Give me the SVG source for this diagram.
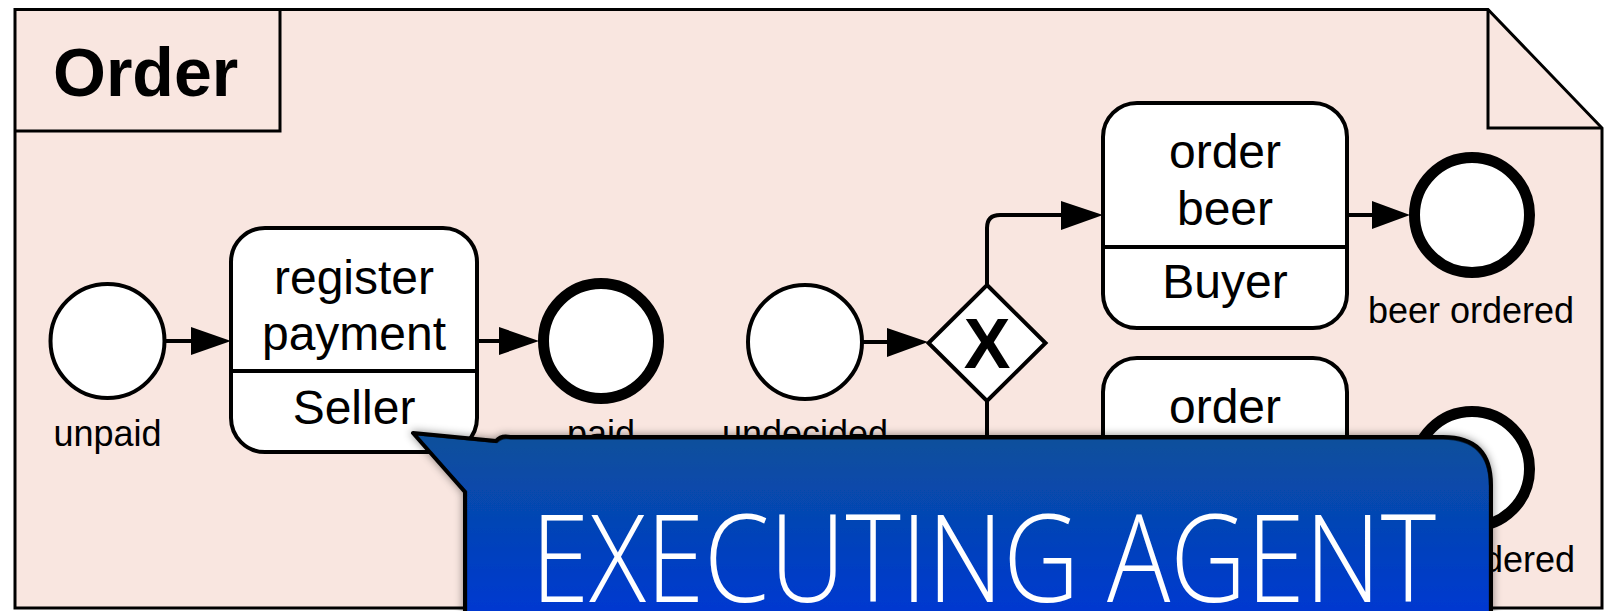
<svg xmlns="http://www.w3.org/2000/svg" width="1608" height="611" viewBox="0 0 1608 611">
<style>
.frame{fill:#f9e6e0;stroke:#000;stroke-width:3;stroke-linejoin:miter}
.ln{fill:none;stroke:#000;stroke-width:3}
.task{fill:#fff;stroke:#000;stroke-width:4}
.start{fill:#fff;stroke:#000;stroke-width:4}
.end{fill:#fff;stroke:#000;stroke-width:11}
.gw{fill:#fff;stroke:#000;stroke-width:4;stroke-linejoin:miter}
.t{font-family:"Liberation Sans",Arial,sans-serif;fill:#000}
.tt{font-size:48px;text-anchor:middle}
.lab{font-size:36px;text-anchor:middle}
.edge{fill:none;stroke:#000;stroke-width:4}
.head{fill:#000}
</style>
<defs>
<linearGradient id="blue" x1="0" y1="0" x2="0" y2="1">
<stop offset="0" stop-color="#09519a"/>
<stop offset="1" stop-color="#0133dc"/>
</linearGradient>
<filter id="shadow" x="-5%" y="-20%" width="110%" height="140%">
<feDropShadow dx="0" dy="0" stdDeviation="4" flood-color="#000" flood-opacity="0.45"/>
</filter>
</defs>

<g id="frame">
<path class="frame" d="M15,9.5 H1488 L1602,128 V608 H15 Z"/>
<path class="ln" d="M1488,9.5 V128 H1602"/>
<path class="ln" d="M15,131 H280 V9.5"/>
<text class="t" x="53" y="96" font-size="68" font-weight="bold">Order</text>
</g>

<g id="connectors">
<line class="edge" x1="164" y1="341" x2="193" y2="341"/>
<polygon class="head" points="231,341 191,327 191,355"/>
<line class="edge" x1="477" y1="341" x2="501" y2="341"/>
<polygon class="head" points="539,341 499,327 499,355"/>
<line class="edge" x1="862" y1="342" x2="889" y2="342"/>
<polygon class="head" points="928,342 887,328 887,357"/>
<path class="edge" d="M987,285 V228 Q987,215 1000,215 H1063"/>
<polygon class="head" points="1103,215 1061,201 1061,230"/>
<line class="edge" x1="1347" y1="215" x2="1374" y2="215"/>
<polygon class="head" points="1410,215 1372,201 1372,229"/>
<path class="edge" d="M987,401 V457 Q987,470 1000,470 H1063"/>
<polygon class="head" points="1103,470 1061,456 1061,484"/>
<line class="edge" x1="1347" y1="470" x2="1374" y2="470"/>
<polygon class="head" points="1410,470 1372,456 1372,484"/>
</g>

<g id="unpaid">
<circle class="start" cx="107.5" cy="341" r="57"/>
<text class="t lab" x="107.5" y="446">unpaid</text>
</g>

<g id="register-payment">
<rect class="task" x="231" y="228" width="246" height="224" rx="34"/>
<line class="edge" x1="231" y1="371" x2="477" y2="371"/>
<text class="t tt" x="354" y="294">register</text>
<text class="t tt" x="354" y="350">payment</text>
<text class="t tt" x="354" y="424">Seller</text>
</g>

<g id="paid">
<circle class="end" cx="601" cy="341" r="57.5"/>
<text class="t lab" x="601" y="446">paid</text>
</g>

<g id="undecided">
<circle class="start" cx="805" cy="342" r="57"/>
<text class="t lab" x="805" y="446">undecided</text>
</g>

<g id="gateway">
<polygon class="gw" points="987,285 1045.5,343 987,401 928.5,343"/>
<text class="t" x="987" y="368" font-size="70" font-weight="bold" text-anchor="middle">X</text>
</g>

<g id="order-beer">
<rect class="task" x="1103" y="103" width="244" height="225" rx="34"/>
<line class="edge" x1="1103" y1="247" x2="1347" y2="247"/>
<text class="t tt" x="1225" y="168">order</text>
<text class="t tt" x="1225" y="225">beer</text>
<text class="t tt" x="1225" y="298">Buyer</text>
</g>

<g id="beer-ordered">
<circle class="end" cx="1472" cy="215" r="57.5"/>
<text class="t lab" x="1471" y="323">beer ordered</text>
</g>

<g id="order-2">
<rect class="task" x="1103" y="358" width="244" height="225" rx="34"/>
<line class="edge" x1="1103" y1="502" x2="1347" y2="502"/>
<text class="t tt" x="1225" y="423">order</text>
</g>

<g id="ordered-2">
<circle class="end" cx="1472" cy="469" r="57.5"/>
<text class="t" x="1575" y="572" font-size="36" text-anchor="end">ordered</text>
</g>

<g id="callout">
<path filter="url(#shadow)" d="M413,433 L496,441 Q501,435 510,437 H1443 Q1491,437 1491,485 V650 H465 V492 Z" fill="url(#blue)" stroke="#000" stroke-width="4" stroke-linejoin="round"/>
<path d="M414,434.5 L497,442.5 Q502,437 511,439 H1443 Q1489.5,439 1489.5,486 V650 M466.5,650 V491.5 L414,434.5" fill="none" stroke="#000" stroke-width="1.5" stroke-opacity="0.6"/>
<text x="531" y="602" font-family="'Open Sans','Noto Sans',sans-serif" font-weight="300" font-size="122" fill="#fff" textLength="905" lengthAdjust="spacingAndGlyphs">EXECUTING AGENT</text>
</g>
</svg>
